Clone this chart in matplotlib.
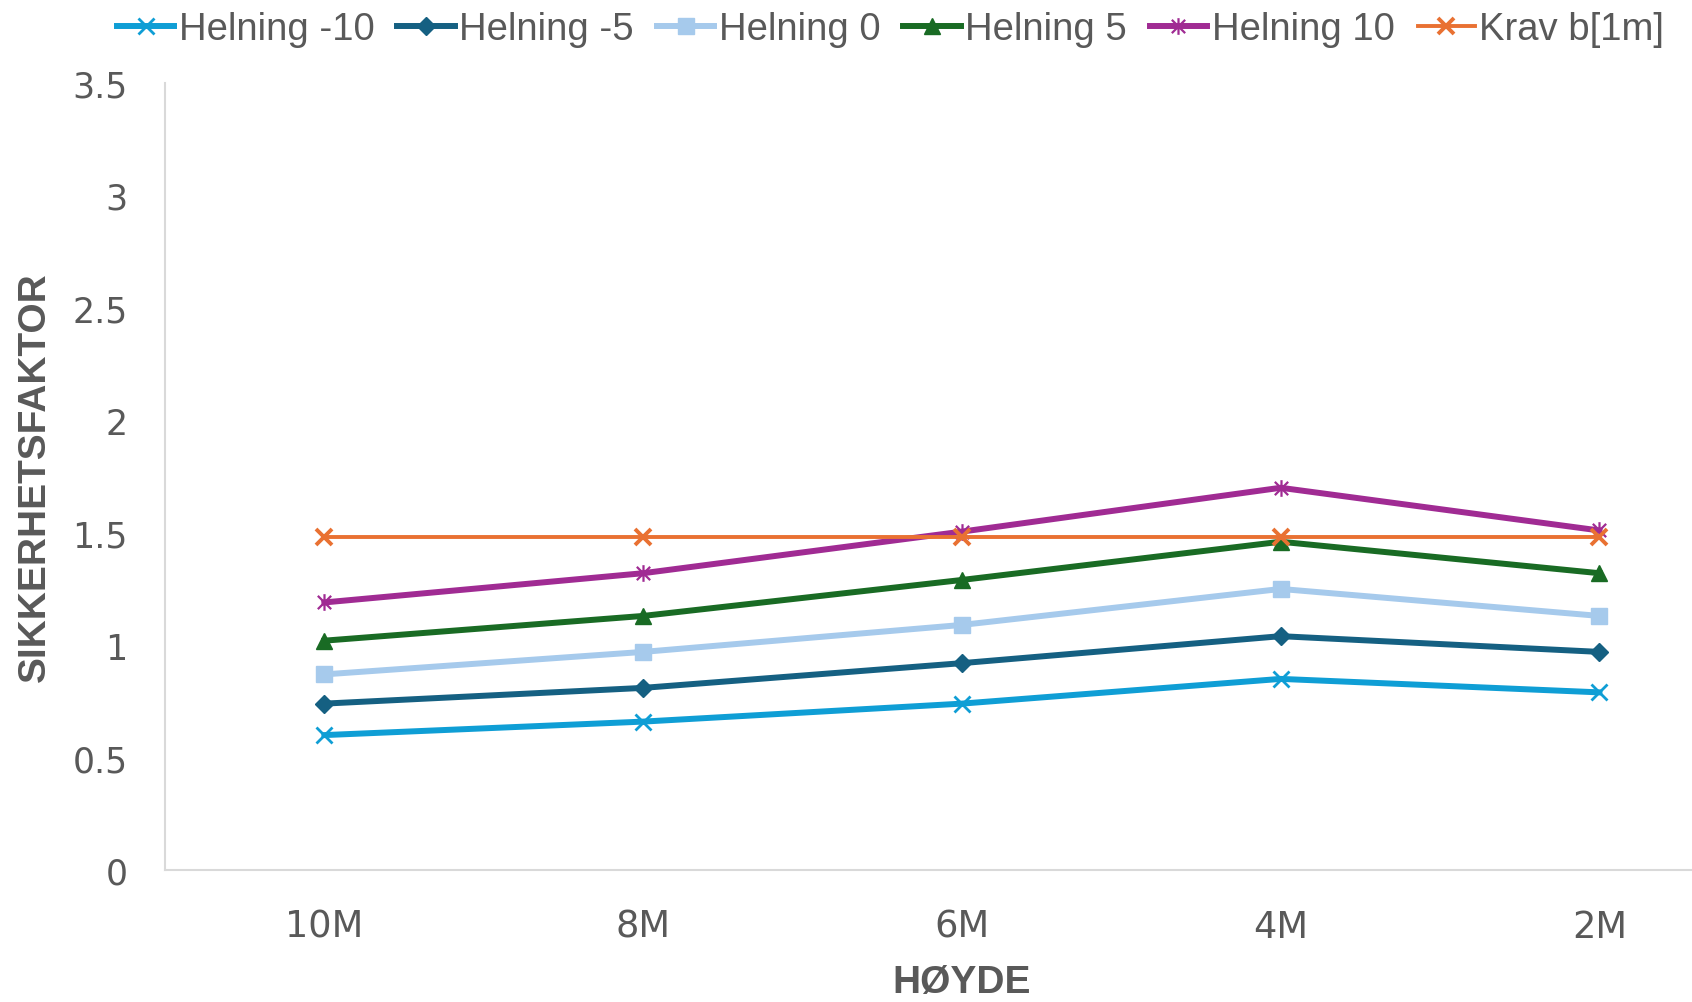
import matplotlib
matplotlib.use("Agg")
import matplotlib.pyplot as plt
from matplotlib.path import Path

categories = ["10M", "8M", "6M", "4M", "2M"]
helning_m10 = [0.60, 0.66, 0.74, 0.85, 0.79]
helning_m5 = [0.74, 0.81, 0.92, 1.04, 0.97]
helning_0 = [0.87, 0.97, 1.09, 1.25, 1.13]
helning_5 = [1.02, 1.13, 1.29, 1.46, 1.32]
helning_10 = [1.19, 1.32, 1.505, 1.70, 1.51]
krav_b = [1.48, 1.48, 1.48, 1.48, 1.48]
y_ticks = [0, 0.5, 1, 1.5, 2, 2.5, 3, 3.5]
y_tick_labels = ["0", "0.5", "1", "1.5", "2", "2.5", "3", "3.5"]

# Star marker: an "x" crossed by a vertical stroke
star = Path(
    [(-1, -1), (1, 1), (-1, 1), (1, -1), (0, -1.25), (0, 1.25)],
    [Path.MOVETO, Path.LINETO, Path.MOVETO, Path.LINETO, Path.MOVETO, Path.LINETO],
)

series = [
    ("Helning -10", helning_m10, "#0F9ED5", "x", 11, 2.0, 4.3),
    ("Helning -5", helning_m5, "#156082", "D", 9.5, 1.0, 4.3),
    ("Helning 0", helning_0, "#A6CAEC", "s", 12, 1.0, 4.3),
    ("Helning 5", helning_5, "#196B24", "^", 12, 1.0, 4.3),
    ("Helning 10", helning_10, "#A02B93", star, 12, 1.6, 4.3),
    ("Krav b[1m]", krav_b, "#E97132", "x", 11, 2.8, 2.8),
]

fig = plt.figure(figsize=(16.92, 10.03), dpi=100)
ax = fig.add_axes([0.0975, 0.1316, 0.942, 0.7846])

x = list(range(len(categories)))
for name, vals, col, mk, ms, mew, lw in series:
    ax.plot(x, vals, color=col, lw=lw, marker=mk, markersize=ms,
            markeredgewidth=mew, markerfacecolor=col, markeredgecolor=col,
            label=name, solid_joinstyle="round")

ax.set_xlim(-0.5, 4.5)
ax.set_ylim(0, 3.5)
ax.set_xticks(x)
ax.set_xticklabels(categories)
ax.set_yticks(y_ticks)
ax.set_yticklabels(y_tick_labels)
ax.tick_params(axis="both", length=0, colors="#595959")
ax.tick_params(axis="y", pad=27, labelsize=25)
ax.tick_params(axis="x", pad=27, labelsize=26.5)
for lab in ax.get_xticklabels() + ax.get_yticklabels():
    lab.set_fontfamily("DejaVu Sans")

for side in ["top", "right"]:
    ax.spines[side].set_visible(False)
for side in ["left", "bottom"]:
    ax.spines[side].set_color("#D9D9D9")
    ax.spines[side].set_linewidth(1.5)

sans = ["Liberation Sans", "DejaVu Sans"]
ax.set_ylabel("SIKKERHETSFAKTOR", fontsize=28, fontweight="bold",
              color="#595959", family=sans, labelpad=14)
ax.set_xlabel("HØYDE", fontsize=28, fontweight="bold",
              color="#595959", family=sans, labelpad=14)

leg = fig.legend(loc="upper right", bbox_to_anchor=(1.004, 1.022), ncol=6,
                 frameon=False, handlelength=1.5,
                 handletextpad=0.12, columnspacing=0.6,
                 prop={"family": sans, "size": 27.5})
for t in leg.get_texts():
    t.set_color("#595959")

fig.savefig("out.png", dpi=100, facecolor="white")
